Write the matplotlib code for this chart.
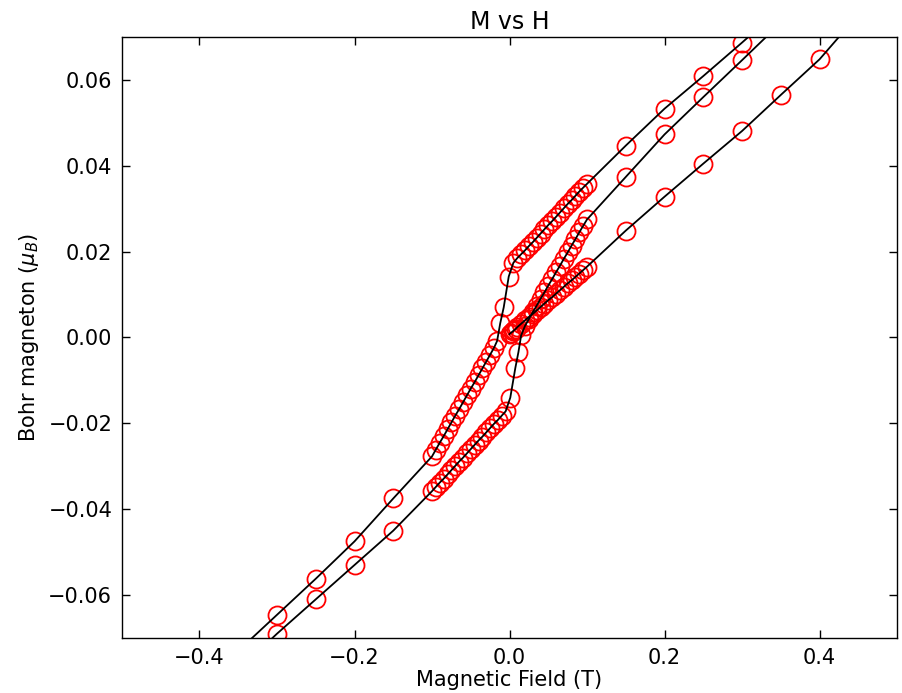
import matplotlib
matplotlib.use("Agg")
import matplotlib.pyplot as plt

# Virgin curve
H_virgin = [0.0, 0.002, 0.004, 0.006, 0.008, 0.01, 0.015, 0.02, 0.025, 0.03, 0.035, 0.04,
            0.045, 0.05, 0.055, 0.06, 0.065, 0.07, 0.075, 0.08, 0.085, 0.09, 0.095, 0.1,
            0.15, 0.2, 0.25, 0.3, 0.35, 0.4, 0.45]
M_virgin = [0.0008, 0.0011, 0.0014, 0.0017, 0.0020, 0.0024, 0.0032, 0.0040, 0.0048, 0.0055,
            0.0063, 0.0071, 0.0079, 0.0087, 0.0094, 0.0102, 0.0110, 0.0118, 0.0126, 0.0133,
            0.0141, 0.0149, 0.0157, 0.0165, 0.0249, 0.0328, 0.0405, 0.0481, 0.0565, 0.0648,
            0.0752]

# Descending branch
H_desc = [0.35, 0.3, 0.25, 0.2, 0.15, 0.1, 0.095, 0.09, 0.085, 0.08, 0.075, 0.07, 0.065,
          0.06, 0.055, 0.05, 0.045, 0.04, 0.035, 0.03, 0.025, 0.02, 0.015, 0.01, 0.005,
          -0.001, -0.0075, -0.012, -0.016, -0.02, -0.025, -0.03, -0.035, -0.04, -0.045,
          -0.05, -0.055, -0.06, -0.065, -0.07, -0.075, -0.08, -0.085, -0.09, -0.095, -0.1,
          -0.15, -0.2, -0.25, -0.3, -0.35]
M_desc = [0.0767, 0.0687, 0.0609, 0.0533, 0.0447, 0.0358, 0.0349, 0.0340, 0.0330, 0.0320,
          0.0311, 0.0301, 0.0291, 0.0281, 0.0271, 0.0262, 0.0252, 0.0242, 0.0232, 0.0222,
          0.0213, 0.0203, 0.0194, 0.0185, 0.0174, 0.0142, 0.0070, 0.0033, -0.0008, -0.0024,
          -0.0040, -0.0056, -0.0072, -0.0088, -0.0104, -0.0119, -0.0135, -0.0151, -0.0167,
          -0.0182, -0.0198, -0.0214, -0.0230, -0.0245, -0.0261, -0.0277, -0.0375, -0.0475,
          -0.0562, -0.0646, -0.0730]

# Ascending branch
H_asc = [-0.35, -0.3, -0.25, -0.2, -0.15, -0.1, -0.095, -0.09, -0.085, -0.08, -0.075, -0.07,
         -0.065, -0.06, -0.055, -0.05, -0.045, -0.04, -0.035, -0.03, -0.025, -0.02, -0.015,
         -0.01, -0.005, 0.001, 0.0075, 0.0115, 0.015, 0.02, 0.025, 0.03, 0.035, 0.04, 0.045,
         0.05, 0.055, 0.06, 0.065, 0.07, 0.075, 0.08, 0.085, 0.09, 0.095, 0.1,
         0.15, 0.2, 0.25, 0.3, 0.35]
M_asc = [-0.0775, -0.0690, -0.0610, -0.0530, -0.0450, -0.0358, -0.0348, -0.0338, -0.0329,
         -0.0319, -0.0309, -0.0299, -0.0289, -0.0280, -0.0270, -0.0260, -0.0250, -0.0240,
         -0.0231, -0.0221, -0.0211, -0.0201, -0.0192, -0.0182, -0.0172, -0.0140, -0.0071,
         -0.0034, 0.0005, 0.0027, 0.0043, 0.0059, 0.0074, 0.0090, 0.0105, 0.0121, 0.0136,
         0.0152, 0.0167, 0.0183, 0.0198, 0.0214, 0.0229, 0.0245, 0.0260, 0.0275,
         0.0374, 0.0473, 0.0560, 0.0646, 0.0733]

branches = [(H_virgin, M_virgin), (H_desc, M_desc), (H_asc, M_asc)]

fig = plt.figure(figsize=(9.03, 6.93), dpi=100)
ax = fig.add_axes([0.1351, 0.0794, 0.8583, 0.8672])

for H, M in branches:
    ax.plot(H, M, linestyle='none', marker='o', markersize=13, markerfacecolor='none',
            markeredgecolor='#ff0000', markeredgewidth=1.3, zorder=2)
for H, M in branches:
    ax.plot(H, M, color='black', linewidth=1.3, zorder=3)

ax.set_xlim(-0.5, 0.5)
ax.set_ylim(-0.07, 0.07)
ax.set_xticks([-0.4, -0.2, 0.0, 0.2, 0.4])
ax.set_yticks([-0.06, -0.04, -0.02, 0.0, 0.02, 0.04, 0.06])
ax.tick_params(direction='in', top=True, right=True, length=6, width=1, labelsize=15, pad=7)
for s in ax.spines.values():
    s.set_linewidth(1.0)

ax.set_title('M vs H', fontsize=17, pad=6)
ax.set_xlabel('Magnetic Field (T)', fontsize=15, labelpad=2)
ax.set_ylabel(r'Bohr magneton ($\mu_B$)', fontsize=15, labelpad=5)

fig.savefig('out.png', dpi=100)
